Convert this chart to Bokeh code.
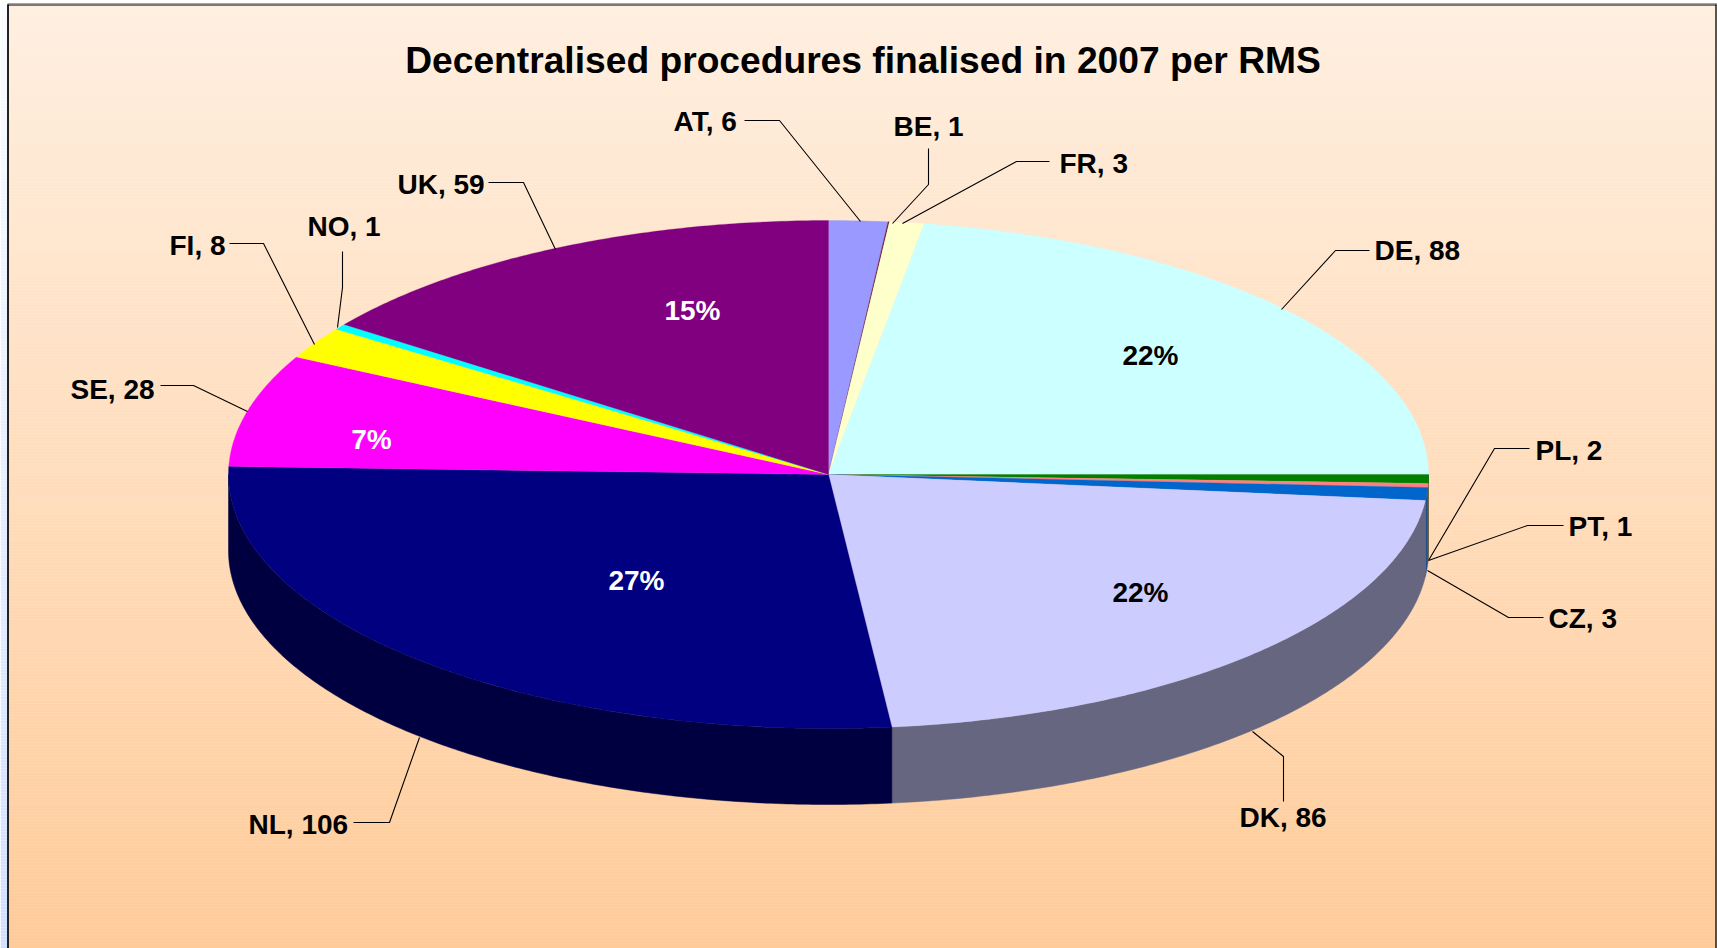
import math
from bokeh.plotting import figure
from bokeh.models import Range1d
from bokeh.core.properties import value
from bokeh.embed import file_html
from bokeh.resources import INLINE

title = "Decentralised procedures finalised in 2007 per RMS"
countries = ["AT", "BE", "FR", "DE", "PL", "PT", "CZ", "DK", "NL", "SE", "FI", "NO", "UK"]
counts = [6, 1, 3, 88, 2, 1, 3, 86, 106, 28, 8, 1, 59]
# slice extents as they are drawn in the picture (the printed labels are rounded)
slice_sizes = [6.2, 0.15, 3.65, 88, 2.2, 1, 3.2, 85, 106.6, 28, 8, 1.4, 58.6]
percent_shown = ["DE", "DK", "NL", "SE", "UK"]

top_colors = ["#9999FF", "#6B2040", "#FFFFCC", "#CCFFFF", "#008000", "#FF8080", "#0066CC",
              "#CCCCFF", "#000080", "#FF00FF", "#FFFF00", "#00FFFF", "#800080"]
wall_colors = ["#4C4C80", "#4C1933", "#808066", "#668080", "#004000", "#C87858", "#1F4F8F",
               "#666680", "#000040", "#800080", "#808000", "#008080", "#400040"]

W, H = 1717, 948
CX, CY, RX, RY, DEPTH = 828, 474, 600, 254, 76

label_pos = {"AT": (673, 121), "BE": (893, 126), "FR": (1059, 163), "DE": (1374, 250),
             "PL": (1535, 450), "PT": (1568, 526), "CZ": (1548, 618), "DK": (1239, 817),
             "NL": (248, 824), "SE": (70, 389), "FI": (169, 245), "NO": (307, 226),
             "UK": (397, 184)}
percent_pos = {"DE": (1150, 355), "DK": (1140, 592), "NL": (636, 580), "SE": (371, 439), "UK": (692, 310)}
percent_colors = {"DE": "black", "DK": "black", "NL": "white", "SE": "white", "UK": "white"}
leaders = {"AT": ([744, 779, 860], [120, 120, 221]), "BE": ([928, 928, 892], [148, 184, 223]),
           "FR": ([1049, 1016, 902], [161, 161, 223]), "DE": ([1369, 1335, 1281], [250, 250, 309]),
           "PL": ([1529, 1494, 1428], [448, 448, 560]), "PT": ([1563, 1527, 1428], [525, 525, 560]),
           "CZ": ([1543, 1508, 1427], [617, 617, 570]), "DK": ([1252, 1283, 1283], [731, 756, 801]),
           "NL": ([353, 389, 419], [822, 822, 737]), "SE": ([160, 193, 247], [385, 385, 411]),
           "FI": ([229, 263, 314], [243, 243, 344]), "NO": ([342, 342, 337], [251, 287, 327]),
           "UK": ([488, 523, 555], [182, 182, 249])}


def lerp_color(a, b, t):
    return "#%02X%02X%02X" % tuple(round(a[i] + (b[i] - a[i]) * t) for i in range(3))


p = figure(width=W, height=H, x_range=Range1d(0, W), y_range=Range1d(H, 0),
           output_backend="svg", toolbar_location=None, min_border=0,
           margin=(0, 0, 0, 0), background_fill_color="white", border_fill_color="white")
p.axis.visible = False
p.grid.visible = False
p.outline_line_color = None

# page stripe and panel gradient
STEP = 3
ys = list(range(0, H, STEP))
p.quad(left=0, right=7, top=ys, bottom=[y + STEP for y in ys],
       fill_color=[lerp_color((250, 252, 255), (208, 222, 255), y / H) for y in ys],
       line_color=None)
ys2 = list(range(4, H, STEP))
cols = [lerp_color((255, 239, 224), (255, 203, 153), y / H) for y in ys2]
p.quad(left=8, right=1716, top=ys2, bottom=[y + STEP for y in ys2],
       fill_color=cols, line_color=cols, line_width=0.5)

# frame
p.line([7.5, 7.5], [4, H], line_color="#222222", line_width=2)
p.line([1715.5, 1715.5], [4, H], line_color="#222222", line_width=1.5)
p.line([7, 1716], [4.5, 4.5], line_color="black", line_width=1.2)
p.line([7, 1717], [3, 3], line_color="#A0A4AC", line_width=1.2)

# pie
total = sum(counts)
size_total = sum(slice_sizes)
angles = [0.0]
for c in slice_sizes:
    angles.append(angles[-1] + c / size_total * 360.0)

wx, wy, wc = [], [], []
tx, ty, tc = [], [], []
for i in range(len(counts)):
    a0, a1 = angles[i], angles[i + 1]
    n = max(3, int((a1 - a0) * 2))
    pts = [a0 + (a1 - a0) * k / n for k in range(n + 1)]
    tx.append([CX] + [CX + RX * math.sin(math.radians(t)) for t in pts])
    ty.append([CY] + [CY - RY * math.cos(math.radians(t)) for t in pts])
    tc.append(top_colors[i])
    v0, v1 = max(a0, 90.0), min(a1, 270.0)
    if v1 > v0:
        m = max(2, int((v1 - v0) * 2))
        q = [v0 + (v1 - v0) * k / m for k in range(m + 1)]
        ex = [CX + RX * math.sin(math.radians(t)) for t in q]
        ey = [CY - RY * math.cos(math.radians(t)) for t in q]
        wx.append(ex + ex[::-1])
        wy.append(ey + [y + DEPTH for y in ey[::-1]])
        wc.append(wall_colors[i])
p.patches(wx, wy, fill_color=wc, line_color=wc, line_width=0.5)
p.patches(tx, ty, fill_color=tc, line_color=tc, line_width=0.3)

# leader lines
p.multi_line([leaders[c][0] for c in countries], [leaders[c][1] for c in countries],
             line_color="black", line_width=1.1)

# texts
FONT = value("Liberation Sans")
p.text([862.5], [59], text=[title], text_font=FONT, text_font_style="bold", text_font_size="37.2px",
       text_align="center", text_baseline="middle", text_color="black")
p.text([label_pos[c][0] for c in countries], [label_pos[c][1] for c in countries],
       text=[f"{c}, {v}" for c, v in zip(countries, counts)],
       text_font=FONT, text_font_style="bold", text_font_size="28px",
       text_align="left", text_baseline="middle", text_color="black")
p.text([percent_pos[c][0] for c in percent_shown], [percent_pos[c][1] for c in percent_shown],
       text=[f"{round(counts[countries.index(c)] / total * 100)}%" for c in percent_shown],
       text_font=FONT, text_font_style="bold", text_font_size="28px",
       text_align="center", text_baseline="middle",
       text_color=[percent_colors[c] for c in percent_shown])

open("out.html", "w").write(file_html(p, INLINE))
